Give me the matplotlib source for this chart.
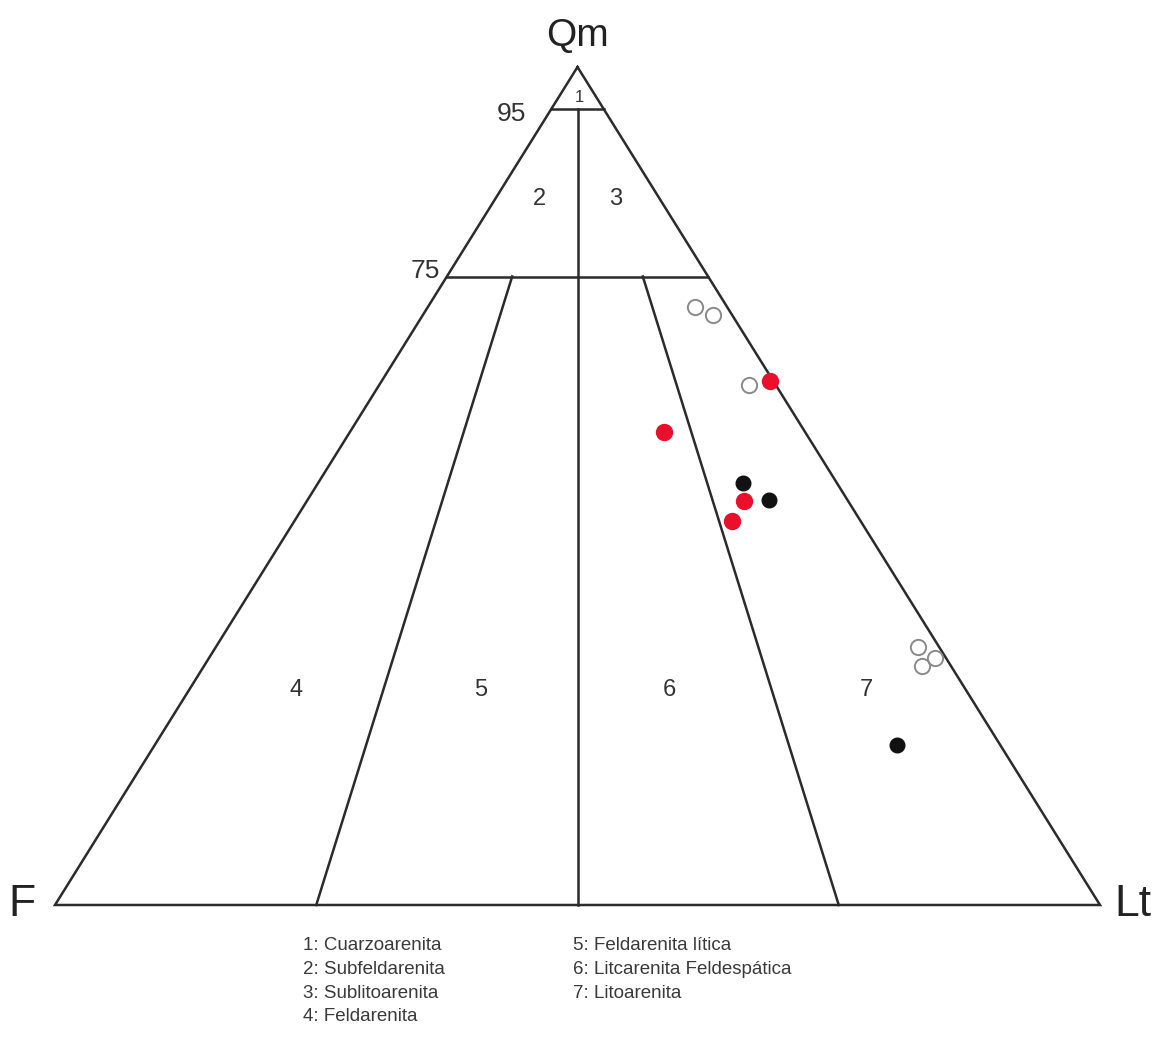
import numpy as np
import matplotlib.pyplot as plt

plt.rcParams['font.family'] = ['Liberation Sans', 'DejaVu Sans']

# sample compositions (% Qm, % F, % Lt)
open_qm = [71.4, 70.4, 62.0, 30.8, 29.4, 28.5]
open_f = [3.1, 1.8, 2.6, 2.0, 1.1, 2.8]
open_lt = [25.5, 27.8, 35.4, 67.2, 69.4, 68.8]

red_qm = [62.5, 56.5, 48.2, 45.8]
red_f = [0.3, 13.5, 10.0, 12.3]
red_lt = [37.2, 30.0, 41.9, 41.9]

black_qm = [50.3, 48.4, 19.1]
black_f = [9.0, 7.5, 9.9]
black_lt = [40.7, 44.2, 71.0]

# classification boundaries
qm_levels = [95, 75]
lt_ratios = [0.25, 0.5, 0.75]  # Lt/(F+Lt)

legend_col1 = ['1: Cuarzoarenita', '2: Subfeldarenita', '3: Sublitoarenita', '4: Feldarenita']
legend_col2 = ['5: Feldarenita lítica', '6: Litcarenita Feldespática', '7: Litoarenita']

# corner positions in figure pixels
apex = np.array([577.5, 67.0])
cf = np.array([55.0, 905.0])
clt = np.array([1100.0, 905.0])


def tern(qm, f, lt):
    qm, f, lt = np.asarray(qm, float), np.asarray(f, float), np.asarray(lt, float)
    s = qm + f + lt
    x = (qm * apex[0] + f * cf[0] + lt * clt[0]) / s
    y = (qm * apex[1] + f * cf[1] + lt * clt[1]) / s
    return x, y


fig = plt.figure(figsize=(11.54, 10.45), dpi=100)
ax = fig.add_axes([0, 0, 1, 1])
ax.set_xlim(0, 1154)
ax.set_ylim(1045, 0)
ax.axis('off')

lc = '#2b2b2b'
lw = 1.8

# outline
x, y = tern([100, 0, 0, 100], [0, 100, 0, 0], [0, 0, 100, 0])
ax.plot(x, y, color=lc, lw=lw, solid_joinstyle='miter')

# horizontal Qm lines
for q in qm_levels:
    x, y = tern([q, q], [100 - q, 0], [0, 100 - q])
    ax.plot(x, y, color=lc, lw=lw)

# ratio lines
for r in lt_ratios:
    top = 95 if r == 0.5 else 75
    x, y = tern([top, 0], [(100 - top) * (1 - r), 100 * (1 - r)], [(100 - top) * r, 100 * r])
    ax.plot(x, y, color=lc, lw=lw)

# data
x, y = tern(open_qm, open_f, open_lt)
ax.plot(x, y, 'o', ms=11, mfc='none', mec='#8a8a8a', mew=1.4)
x, y = tern(red_qm, red_f, red_lt)
ax.plot(x, y, 'o', ms=11.5, mfc='#e8102a', mec='#e8102a')
x, y = tern(black_qm, black_f, black_lt)
ax.plot(x, y, 'o', ms=10.5, mfc='#111111', mec='#111111')

tc = '#333333'
ax.text(578, 36, 'Qm', fontsize=28, ha='center', va='center', color='#222222')
ax.text(22, 905, 'F', fontsize=32, ha='center', va='center', color='#222222')
ax.text(1133, 905, 'Lt', fontsize=32, ha='center', va='center', color='#222222')
ax.text(526, 114, '95', fontsize=19, ha='right', va='center', color=tc)
ax.text(440, 271, '75', fontsize=19, ha='right', va='center', color=tc)

ax.text(579, 98, '1', fontsize=12, ha='center', va='center', color=tc)
region_x = [539, 616, 296, 481, 669, 866]
region_y = [199, 199, 690, 690, 690, 690]
for i, (rx, ry) in enumerate(zip(region_x, region_y)):
    ax.text(rx, ry, str(i + 2), fontsize=17, ha='center', va='center', color=tc)

for i, s in enumerate(legend_col1):
    ax.text(303, 946 + i * 23.5, s, fontsize=13.5, ha='left', va='center', color='#3a3a3a')
for i, s in enumerate(legend_col2):
    ax.text(573, 946 + i * 23.5, s, fontsize=13.5, ha='left', va='center', color='#3a3a3a')

fig.savefig('out.png', dpi=100, facecolor='white')
